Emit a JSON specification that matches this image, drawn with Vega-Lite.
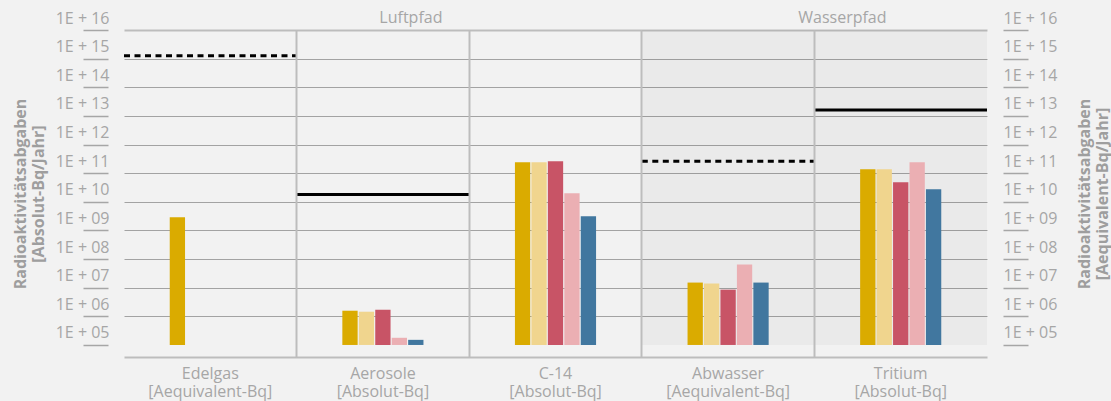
{
  "$schema": "https://vega.github.io/schema/vega-lite/v6.json",
  "background": "#f2f2f2",
  "autosize": {"type": "fit", "contains": "padding"},
  "width": 1111,
  "height": 401,
  "padding": {"left": 12, "top": 10, "right": 0, "bottom": 2},
  "datasets": {
    "bars": [
      {"cat": "Edelgas", "series": "Reihe 1", "value": 2.86e9},
      {"cat": "Aerosole", "series": "Reihe 1", "value": 1.57e6},
      {"cat": "Aerosole", "series": "Reihe 2", "value": 1.45e6},
      {"cat": "Aerosole", "series": "Reihe 3", "value": 1.70e6},
      {"cat": "Aerosole", "series": "Reihe 4", "value": 1.78e5},
      {"cat": "Aerosole", "series": "Reihe 5", "value": 1.51e5},
      {"cat": "C-14", "series": "Reihe 1", "value": 2.42e11},
      {"cat": "C-14", "series": "Reihe 2", "value": 2.42e11},
      {"cat": "C-14", "series": "Reihe 3", "value": 2.63e11},
      {"cat": "C-14", "series": "Reihe 4", "value": 1.98e10},
      {"cat": "C-14", "series": "Reihe 5", "value": 3.1e9},
      {"cat": "Abwasser", "series": "Reihe 1", "value": 1.51e7},
      {"cat": "Abwasser", "series": "Reihe 2", "value": 1.39e7},
      {"cat": "Abwasser", "series": "Reihe 3", "value": 8.55e6},
      {"cat": "Abwasser", "series": "Reihe 4", "value": 6.44e7},
      {"cat": "Abwasser", "series": "Reihe 5", "value": 1.51e7},
      {"cat": "Tritium", "series": "Reihe 1", "value": 1.38e11},
      {"cat": "Tritium", "series": "Reihe 2", "value": 1.38e11},
      {"cat": "Tritium", "series": "Reihe 3", "value": 4.82e10},
      {"cat": "Tritium", "series": "Reihe 4", "value": 2.42e11},
      {"cat": "Tritium", "series": "Reihe 5", "value": 2.74e10}
    ],
    "limits": [
      {"cat": "Edelgas", "pfad": "Luftpfad", "einheit": "Aequivalent-Bq", "limit": 1.26e15},
      {"cat": "Aerosole", "pfad": "Luftpfad", "einheit": "Absolut-Bq", "limit": 1.79e10},
      {"cat": "Abwasser", "pfad": "Wasserpfad", "einheit": "Aequivalent-Bq", "limit": 2.62e11},
      {"cat": "Tritium", "pfad": "Wasserpfad", "einheit": "Absolut-Bq", "limit": 1.61e13}
    ]
  },
  "resolve": {"axis": {"x": "independent", "y": "independent"}},
  "layer": [
    {
      "data": {"name": "limits"},
      "transform": [{"filter": "datum.pfad === 'Wasserpfad'"}],
      "mark": {"type": "rect", "fill": "#000000", "fillOpacity": 0.03},
      "encoding": {
        "x": {"field": "cat", "type": "nominal",
          "axis": {"orient": "top", "bandPosition": 0, "labels": false, "ticks": false, "domain": false, "title": null,
            "grid": true, "gridColor": "#bdbdbd", "gridWidth": 2,
            "gridOpacity": {"condition": {"test": "datum.value === 'Edelgas'", "value": 0}, "value": 1}}},
        "y": {"datum": 100000, "type": "quantitative", "axis": null},
        "y2": {"datum": 1e16}
      }
    },
    {
      "data": {"name": "bars"},
      "mark": {"type": "bar"},
      "encoding": {
        "x": {"field": "cat", "type": "nominal",
          "scale": {"domain": ["Edelgas", "Aerosole", "C-14", "Abwasser", "Tritium"], "paddingInner": 0, "paddingOuter": 0},
          "axis": {"orient": "bottom", "ticks": false, "domain": true, "domainColor": "#bdbdbd", "domainWidth": 2, "grid": false, "title": null,
            "labelAngle": 0,
            "labelExpr": "[datum.label, (datum.value === 'Edelgas' || datum.value === 'Abwasser') ? '[Aequivalent-Bq]' : '[Absolut-Bq]']",
            "labelFont": "Open Sans", "labelFontSize": 16, "labelColor": "#a6a6a6", "labelPadding": 8, "labelLineHeight": 18, "labelBaseline": "top"}},
        "xOffset": {"field": "series", "type": "nominal",
          "scale": {"domain": ["Reihe 1", "Reihe 2", "Reihe 3", "Reihe 4", "Reihe 5"],
            "range": [{"expr": "bandwidth('x') * 0.265"}, {"expr": "bandwidth('x') * 0.735"}],
            "paddingInner": 0.07, "paddingOuter": 0}},
        "y": {"field": "value", "type": "quantitative",
          "scale": {"type": "log", "domain": [38000, 1e16], "nice": false},
          "axis": {"orient": "left", "offset": 16, "values": [1e5, 1e6, 1e7, 1e8, 1e9, 1e10, 1e11, 1e12, 1e13, 1e14, 1e15, 1e16],
            "domain": false, "ticks": true, "tickSize": 25, "tickColor": "#a6a6a6", "tickWidth": 1.5,
            "labelExpr": "'1E + ' + (datum.value < 1e10 ? '0' : '') + round(log(datum.value) / LN10)",
            "labelAlign": "right", "labelPadding": -26, "labelOffset": -12, "labelBaseline": "middle",
            "labelFont": "Open Sans", "labelFontSize": 16, "labelColor": "#a6a6a6",
            "grid": true,
            "gridColor": {"condition": {"test": "datum.value > 5e15", "value": "#bdbdbd"}, "value": "#a3a3a3"},
            "gridWidth": {"condition": {"test": "datum.value > 5e15", "value": 2}, "value": 1.2},
            "gridOpacity": {"condition": {"test": "datum.value < 2e5", "value": 0}, "value": 1},
            "title": ["Radioaktivitätsabgaben", "[Absolut-Bq/Jahr]"],
            "titleFont": "Open Sans", "titleFontSize": 16, "titleFontWeight": "bold", "titleColor": "#9e9e9e", "titlePadding": 9, "titleLineHeight": 18}},
        "y2": {"datum": 100000},
        "color": {"field": "series", "type": "nominal",
          "scale": {"domain": ["Reihe 1", "Reihe 2", "Reihe 3", "Reihe 4", "Reihe 5"], "range": ["#daab00", "#f0d58e", "#c85466", "#ebafb3", "#41779f"]},
          "legend": null}
      }
    },
    {
      "data": {"name": "limits"},
      "mark": {"type": "rule", "strokeWidth": 3, "color": "#000000",
        "xOffset": {"expr": "-bandwidth('x') / 2"}, "x2Offset": {"expr": "bandwidth('x') / 2"}},
      "encoding": {
        "x": {"field": "cat", "type": "nominal", "axis": null},
        "x2": {"field": "cat"},
        "y": {"field": "limit", "type": "quantitative",
          "axis": {"orient": "right", "offset": 16, "values": [1e5, 1e6, 1e7, 1e8, 1e9, 1e10, 1e11, 1e12, 1e13, 1e14, 1e15, 1e16],
            "domain": false, "ticks": true, "tickSize": 25, "tickColor": "#a6a6a6", "tickWidth": 1.5,
            "labelExpr": "'1E + ' + (datum.value < 1e10 ? '0' : '') + round(log(datum.value) / LN10)",
            "labelAlign": "left", "labelPadding": -25, "labelOffset": -12, "labelBaseline": "middle",
            "labelFont": "Open Sans", "labelFontSize": 16, "labelColor": "#a6a6a6",
            "grid": false,
            "title": ["Radioaktivitätsabgaben", "[Aequivalent-Bq/Jahr]"], "titleAngle": 270,
            "titleFont": "Open Sans", "titleFontSize": 16, "titleFontWeight": "bold", "titleColor": "#9e9e9e", "titlePadding": 18, "titleLineHeight": 18}},
        "strokeDash": {"field": "einheit", "type": "nominal",
          "scale": {"domain": ["Aequivalent-Bq", "Absolut-Bq"], "range": [[6, 4.5], [1, 0]]},
          "legend": null}
      }
    },
    {
      "data": {"values": [{"pfad": "Luftpfad"}]},
      "mark": {"type": "text", "dx": 28, "dy": -7, "baseline": "alphabetic", "align": "center", "font": "Open Sans", "fontSize": 16, "color": "#a6a6a6"},
      "encoding": {
        "x": {"datum": "Aerosole", "type": "nominal", "axis": null},
        "y": {"datum": 1e16, "type": "quantitative", "axis": null},
        "text": {"field": "pfad"}
      }
    },
    {
      "data": {"values": [{"pfad": "Wasserpfad"}]},
      "mark": {"type": "text", "dx": 28, "dy": -7, "baseline": "alphabetic", "align": "center", "font": "Open Sans", "fontSize": 16, "color": "#a6a6a6"},
      "encoding": {
        "x": {"datum": "Tritium", "bandPosition": 0, "type": "nominal", "axis": null},
        "y": {"datum": 1e16, "type": "quantitative", "axis": null},
        "text": {"field": "pfad"}
      }
    }
  ],
  "config": {"view": {"stroke": null}, "font": "Open Sans"}
}
